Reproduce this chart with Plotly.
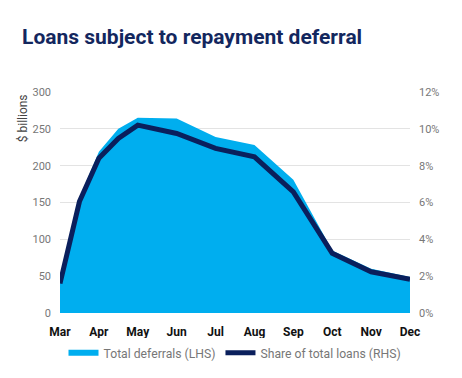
import plotly.graph_objects as go

# Data
x_pos = [0, 0.5, 1, 1.5, 2, 3, 4, 5, 6, 7, 8, 9]
deferrals_lhs = [42, 156, 219, 250, 265, 264, 239, 228, 181, 85, 60, 49]
share_rhs = [1.6, 6.05, 8.4, 9.48, 10.2, 9.75, 8.94, 8.48, 6.58, 3.24, 2.24, 1.83]
month_ticks = [0, 1, 2, 3, 4, 5, 6, 7, 8, 9]
month_labels = ["Mar", "Apr", "May", "Jun", "Jul", "Aug", "Sep", "Oct", "Nov", "Dec"]
left_ticks = [0, 50, 100, 150, 200, 250, 300]
right_ticks = [0, 2, 4, 6, 8, 10, 12]

FONT = "Roboto"
AREA = "#00AEEF"
NAVY = "#0A1F5C"

fig = go.Figure()
fig.add_trace(go.Scatter(
    x=x_pos, y=deferrals_lhs, mode="none", fill="tozeroy",
    fillcolor=AREA, name="Total deferrals (LHS)", yaxis="y",
))
fig.add_trace(go.Scatter(
    x=x_pos, y=share_rhs, mode="lines", line=dict(color=NAVY, width=5),
    name="Share of total loans (RHS)", yaxis="y2",
))

# the page body adds an 8px offset, so the figure is sized to fit inside the window
fig.update_layout(
    width=454, height=370,
    margin=dict(l=52, r=52, t=84, b=65, autoexpand=False),
    paper_bgcolor="white", plot_bgcolor="white",
    font=dict(family=FONT, color="#777777", size=11),
    title=dict(text="<b>Loans subject to repayment deferral</b>",
               x=0.031, xanchor="left", y=0.922, yanchor="middle",
               font=dict(family=FONT, size=21, color="#13275E")),
    xaxis=dict(range=[0, 9], tickmode="array", tickvals=month_ticks,
               ticktext=month_labels, showgrid=False, zeroline=False,
               showline=False, ticks="", ticklabelstandoff=10,
               tickfont=dict(family=FONT, size=12, color="#111111", weight="bold")),
    yaxis=dict(range=[0, 300], tickvals=left_ticks, showgrid=True,
               gridcolor="#E3E3E3", gridwidth=1, zeroline=False, ticks="",
               ticklabelstandoff=8,
               tickfont=dict(size=11, color="#777777")),
    yaxis2=dict(range=[0, 12], tickvals=right_ticks,
                ticktext=[f"{v}%" for v in right_ticks],
                overlaying="y", side="right", showgrid=False, zeroline=False,
                ticks="", ticklabelstandoff=8,
                tickfont=dict(size=11, color="#777777")),
    legend=dict(orientation="h", xref="container", x=0.5, xanchor="center",
                yref="container", y=0.068, yanchor="middle",
                font=dict(size=12.2, color="#777777"), itemwidth=30,
                tracegroupgap=0),
    showlegend=True,
)

fig.add_annotation(text="$ billions", xref="paper", yref="paper",
                   x=-0.105, y=1.0, xanchor="center", yanchor="top",
                   textangle=-90, showarrow=False,
                   font=dict(family=FONT, size=12, color="#444444"))

fig.write_html("out.html")
